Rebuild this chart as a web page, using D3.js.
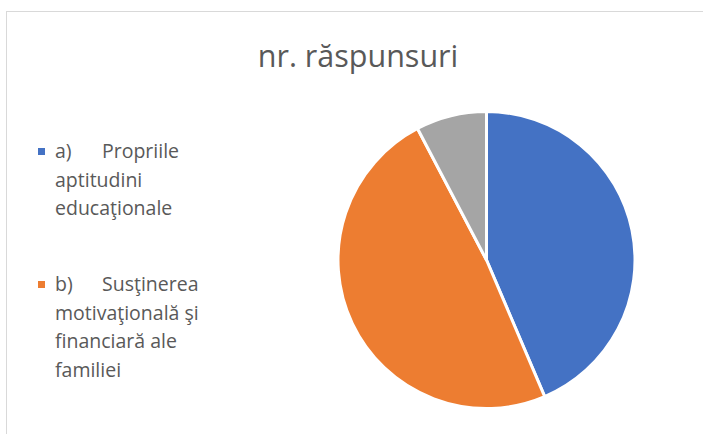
<!DOCTYPE html>
<html>
<head>
<meta charset="utf-8">
<script src="https://cdn.jsdelivr.net/npm/d3@7"></script>
<style>
  body { margin: 0; background: #fff; }
  text { font-family: "Open Sans", sans-serif; fill: #595959; }
</style>
</head>
<body>
<div id="chart"></div>
<script>
// data
var categories = ["a)", "b)", "c)"];
var legendLines = [
  ["Propriile", "aptitudini", "educaţionale"],
  ["Susţinerea", "motivaţională şi", "financiară ale", "familiei"]
];
var values = [17, 19, 3];
var colors = ["#4472c4", "#ed7d31", "#a5a5a5"];
var title = "nr. răspunsuri";

var w = 703, h = 434;

var svg = d3.select("#chart")
            .append("svg")
            .attr("width", w)
            .attr("height", h);

// chart area border (runs off the right and bottom)
svg.append("rect")
   .attr("x", 6.5).attr("y", 11.5)
   .attr("width", 720).attr("height", 440)
   .attr("fill", "#fff")
   .attr("stroke", "#d9d9d9")
   .attr("stroke-width", 1);

svg.append("text")
   .attr("x", 358)
   .attr("y", 67)
   .attr("text-anchor", "middle")
   .style("font-size", "30.5px")
   .style("font-weight", 400)
   .text(title);

// pie
var cx = 486.5, cy = 260, r = 148.5;
var pie = d3.pie().sort(null).value(function(d) { return d; });
var arc = d3.arc().innerRadius(0).outerRadius(r);

svg.append("g")
   .attr("transform", "translate(" + cx + "," + cy + ")")
   .selectAll("path")
   .data(pie(values))
   .enter()
   .append("path")
   .attr("d", arc)
   .attr("fill", function(d, i) { return colors[i]; })
   .attr("stroke", "#fff")
   .attr("stroke-width", 3)
   .attr("stroke-linejoin", "round");

// legend (only the first two entries fit)
var lineH = 28.6;
var entryY = [158, 291];
var legend = svg.selectAll("g.legend")
   .data(legendLines)
   .enter()
   .append("g")
   .attr("class", "legend");

legend.append("rect")
   .attr("x", 38)
   .attr("y", function(d, i) { return entryY[i] - 10; })
   .attr("width", 7).attr("height", 7)
   .attr("fill", function(d, i) { return colors[i]; });

legend.append("text")
   .attr("x", 55)
   .attr("y", function(d, i) { return entryY[i]; })
   .style("font-size", "19.5px")
   .text(function(d, i) { return categories[i]; });

legend.each(function(d, i) {
  var g = d3.select(this);
  var t = g.append("text")
     .attr("y", entryY[i])
     .style("font-size", "19.5px");
  d.forEach(function(line, j) {
    t.append("tspan")
     .attr("x", j === 0 ? 102 : 55)
     .attr("y", entryY[i] + j * lineH)
     .text(line);
  });
});
</script>
</body>
</html>
